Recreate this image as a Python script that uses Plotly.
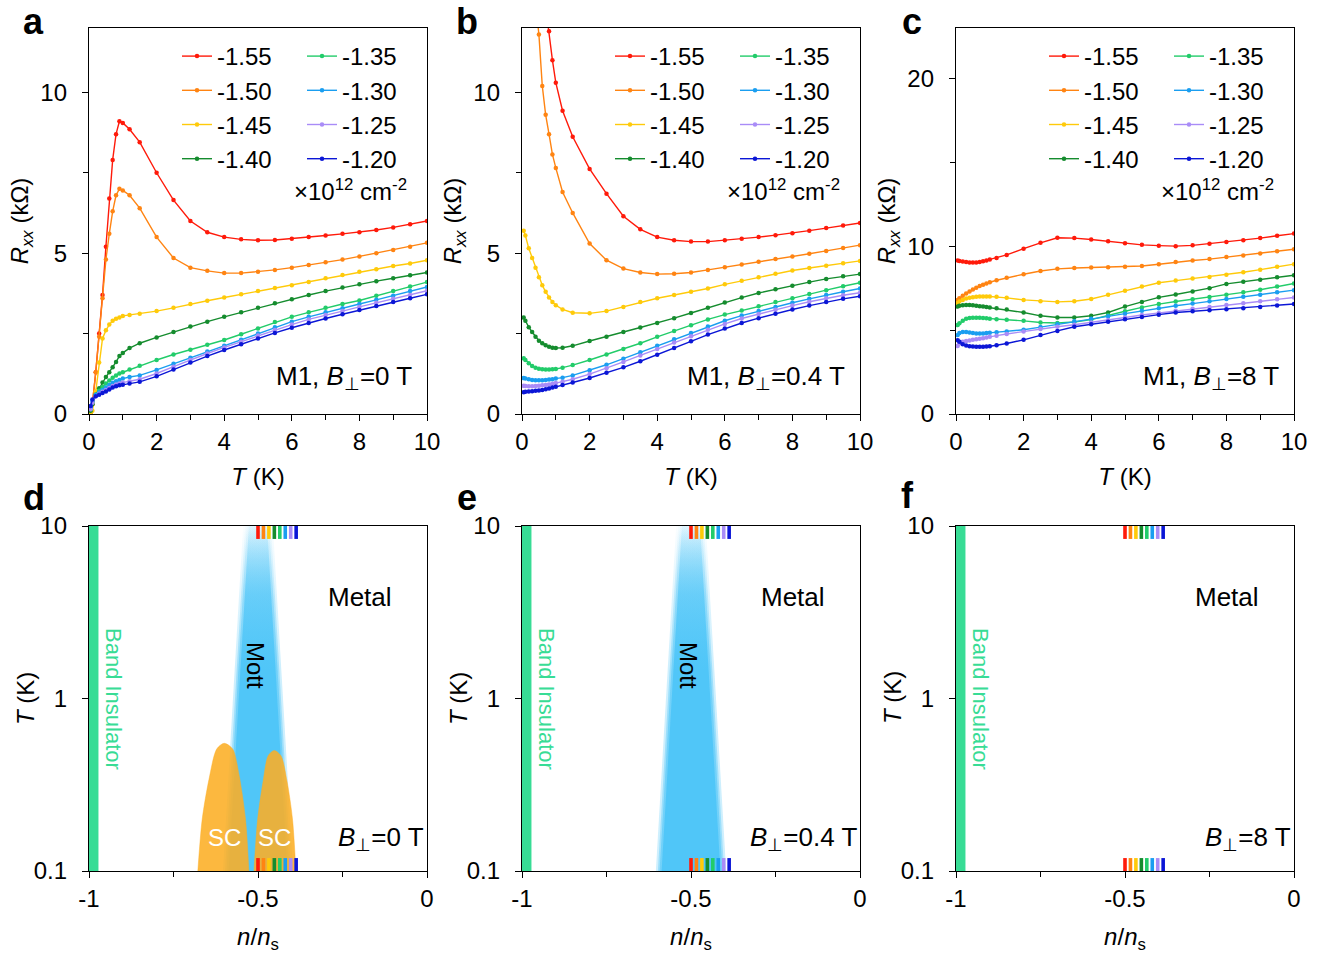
import plotly.graph_objects as go

W, H = 1340, 957
FONT = "Liberation Sans, Arial, Helvetica, sans-serif"

# ---------------- data ----------------
density = [-1.55, -1.50, -1.45, -1.40, -1.35, -1.30, -1.25, -1.20]   # x10^12 cm^-2
density_labels = ["-1.55", "-1.50", "-1.45", "-1.40", "-1.35", "-1.30", "-1.25", "-1.20"]
colors = ["#FF1A0A", "#FF8412", "#FFCA0A", "#158C2E", "#22CC6A", "#1A9EF0", "#A98CF7", "#0B16D6"]
N_S = 3.1  # x10^12 cm^-2

T_K = [0.05, 0.1, 0.2, 0.3, 0.4, 0.5, 0.6, 0.7, 0.8, 0.9, 1.0, 1.2, 1.5, 2.0, 2.5, 3.0, 3.5, 4.0,
       4.5, 5.0, 5.5, 6.0, 6.5, 7.0, 7.5, 8.0, 8.5, 9.0, 9.5, 10.0]

# panel a : B = 0 T  (Rxx in kOhm)
a_155 = [0.05, 0.3, 1.3, 2.5, 3.7, 5.2, 6.7, 7.9, 8.7, 9.1, 9.05, 8.85, 8.45, 7.5, 6.65, 6.0, 5.65, 5.5, 5.43, 5.4, 5.41, 5.45, 5.5, 5.55, 5.6, 5.65, 5.72, 5.8, 5.9, 6.0]
a_150 = [0.05, 0.3, 1.3, 2.4, 3.6, 4.8, 5.6, 6.3, 6.8, 7.0, 6.95, 6.8, 6.4, 5.5, 4.85, 4.55, 4.45, 4.38, 4.38, 4.42, 4.48, 4.55, 4.63, 4.72, 4.8, 4.9, 5.0, 5.1, 5.2, 5.32]
a_145 = [0.03, 0.1, 0.7, 1.6, 2.35, 2.6, 2.78, 2.9, 2.96, 3.0, 3.05, 3.08, 3.12, 3.2, 3.3, 3.42, 3.52, 3.62, 3.72, 3.82, 3.92, 4.0, 4.1, 4.22, 4.32, 4.42, 4.5, 4.6, 4.68, 4.78]
a_140 = [0.1, 0.3, 0.6, 0.8, 0.98, 1.15, 1.3, 1.45, 1.62, 1.8, 1.9, 2.05, 2.2, 2.38, 2.55, 2.72, 2.87, 3.02, 3.16, 3.3, 3.44, 3.57, 3.7, 3.82, 3.93, 4.03, 4.13, 4.22, 4.31, 4.4]
a_135 = [0.15, 0.35, 0.6, 0.72, 0.84, 0.95, 1.04, 1.13, 1.2, 1.26, 1.3, 1.38, 1.5, 1.68, 1.85, 2.0, 2.15, 2.3, 2.48, 2.66, 2.86, 3.02, 3.16, 3.3, 3.42, 3.53, 3.68, 3.82, 3.96, 4.1]
a_130 = [0.2, 0.4, 0.6, 0.68, 0.75, 0.82, 0.9, 0.97, 1.02, 1.06, 1.1, 1.15, 1.2, 1.37, 1.56, 1.75, 1.94, 2.12, 2.31, 2.5, 2.7, 2.87, 3.02, 3.16, 3.29, 3.42, 3.55, 3.68, 3.82, 3.95]
a_125 = [0.15, 0.35, 0.55, 0.63, 0.69, 0.75, 0.81, 0.87, 0.92, 0.95, 0.98, 1.02, 1.08, 1.26, 1.47, 1.68, 1.88, 2.07, 2.25, 2.44, 2.61, 2.78, 2.94, 3.08, 3.2, 3.33, 3.46, 3.58, 3.7, 3.83]
a_120 = [0.25, 0.45, 0.55, 0.6, 0.65, 0.7, 0.76, 0.82, 0.86, 0.89, 0.91, 0.95, 1.0, 1.17, 1.38, 1.6, 1.8, 1.99, 2.17, 2.35, 2.52, 2.68, 2.83, 2.97, 3.1, 3.23, 3.36, 3.48, 3.6, 3.72]

# panel b : B = 0.4 T
b_155 = [25, 22, 19, 17, 15.5, 14.5, 13.5, 12.6, 11.9, 11.0, 10.3, 9.43, 8.62, 7.62, 6.85, 6.15, 5.74, 5.5, 5.4, 5.36, 5.36, 5.4, 5.45, 5.5, 5.56, 5.62, 5.7, 5.78, 5.86, 5.94]
b_150 = [18, 16.5, 15.0, 13.8, 12.9, 11.8, 10.2, 9.3, 8.7, 8.07, 7.65, 6.9, 6.25, 5.3, 4.78, 4.52, 4.4, 4.35, 4.36, 4.4, 4.48, 4.56, 4.65, 4.73, 4.82, 4.9, 4.98, 5.07, 5.16, 5.25]
b_145 = [5.7, 5.55, 5.15, 4.85, 4.55, 4.25, 4.0, 3.8, 3.62, 3.48, 3.38, 3.25, 3.15, 3.13, 3.2, 3.33, 3.48, 3.6, 3.7, 3.8, 3.9, 4.03, 4.14, 4.25, 4.36, 4.46, 4.54, 4.61, 4.69, 4.76]
b_140 = [3.0, 2.9, 2.7, 2.55, 2.4, 2.28, 2.2, 2.14, 2.09, 2.06, 2.05, 2.06, 2.12, 2.27, 2.4, 2.55, 2.69, 2.83, 2.98, 3.14, 3.3, 3.47, 3.62, 3.76, 3.88, 3.99, 4.1, 4.2, 4.28, 4.35]
b_135 = [1.73, 1.68, 1.58, 1.49, 1.44, 1.41, 1.39, 1.38, 1.38, 1.39, 1.4, 1.44, 1.52, 1.68, 1.85, 2.02, 2.2, 2.4, 2.58, 2.76, 2.94, 3.09, 3.22, 3.35, 3.48, 3.6, 3.73, 3.85, 3.97, 4.08]
b_130 = [1.12, 1.1, 1.08, 1.06, 1.05, 1.05, 1.05, 1.06, 1.07, 1.08, 1.1, 1.13, 1.2, 1.36, 1.53, 1.72, 1.92, 2.12, 2.32, 2.52, 2.72, 2.9, 3.06, 3.2, 3.33, 3.46, 3.58, 3.7, 3.8, 3.9]
b_125 = [0.88, 0.87, 0.86, 0.86, 0.87, 0.88, 0.89, 0.9, 0.92, 0.94, 0.96, 1.0, 1.08, 1.24, 1.42, 1.62, 1.82, 2.02, 2.22, 2.42, 2.62, 2.8, 2.97, 3.11, 3.24, 3.37, 3.49, 3.6, 3.69, 3.77]
b_120 = [0.68, 0.69, 0.7, 0.71, 0.72, 0.73, 0.75, 0.77, 0.79, 0.82, 0.85, 0.9, 0.98, 1.12, 1.28, 1.45, 1.64, 1.84, 2.05, 2.26, 2.47, 2.66, 2.83, 2.98, 3.12, 3.25, 3.37, 3.48, 3.58, 3.66]

# panel c : B = 8 T
c_155 = [9.15, 9.12, 9.08, 9.05, 9.03, 9.02, 9.02, 9.05, 9.1, 9.15, 9.2, 9.3, 9.48, 9.85, 10.2, 10.5, 10.48, 10.4, 10.3, 10.18, 10.08, 10.03, 10.0, 10.05, 10.15, 10.25, 10.35, 10.48, 10.62, 10.75]
c_150 = [6.8, 6.9, 7.05, 7.18, 7.3, 7.42, 7.53, 7.62, 7.7, 7.78, 7.85, 7.97, 8.12, 8.33, 8.52, 8.65, 8.7, 8.73, 8.75, 8.77, 8.82, 8.92, 9.05, 9.15, 9.23, 9.35, 9.45, 9.57, 9.7, 9.82]
c_145 = [6.6, 6.7, 6.8, 6.88, 6.93, 6.96, 6.98, 7.0, 7.0, 7.0, 7.0, 6.98, 6.92, 6.8, 6.72, 6.68, 6.72, 6.85, 7.1, 7.35, 7.6, 7.82, 7.95, 8.07, 8.17, 8.3, 8.45, 8.6, 8.77, 8.93]
c_140 = [6.4, 6.45, 6.48, 6.5, 6.5, 6.48, 6.45, 6.42, 6.4, 6.37, 6.35, 6.3, 6.22, 6.05, 5.85, 5.75, 5.75, 5.85, 6.05, 6.4, 6.68, 6.95, 7.12, 7.3, 7.5, 7.75, 7.88, 8.0, 8.15, 8.27]
c_135 = [5.3, 5.4, 5.55, 5.68, 5.72, 5.74, 5.74, 5.73, 5.72, 5.7, 5.68, 5.65, 5.62, 5.55, 5.45, 5.42, 5.48, 5.62, 5.88, 6.12, 6.35, 6.55, 6.7, 6.83, 6.97, 7.1, 7.25, 7.4, 7.6, 7.78]
c_130 = [4.7, 4.82, 4.88, 4.88, 4.85, 4.82, 4.8, 4.8, 4.8, 4.82, 4.84, 4.87, 4.92, 5.02, 5.18, 5.35, 5.52, 5.67, 5.82, 5.98, 6.15, 6.3, 6.45, 6.58, 6.72, 6.85, 6.98, 7.1, 7.25, 7.38]
c_125 = [4.05, 4.2, 4.3, 4.35, 4.38, 4.42, 4.45, 4.48, 4.52, 4.56, 4.6, 4.67, 4.77, 4.92, 5.07, 5.2, 5.32, 5.45, 5.6, 5.75, 5.9, 6.02, 6.15, 6.27, 6.38, 6.5, 6.6, 6.72, 6.83, 6.94]
c_120 = [4.4, 4.3, 4.15, 4.08, 4.04, 4.02, 4.0, 4.0, 4.0, 4.02, 4.04, 4.1, 4.2, 4.42, 4.7, 4.95, 5.2, 5.35, 5.5, 5.65, 5.78, 5.92, 6.05, 6.12, 6.18, 6.24, 6.3, 6.38, 6.46, 6.55]

panel_a = [a_155, a_150, a_145, a_140, a_135, a_130, a_125, a_120]
panel_b = [b_155, b_150, b_145, b_140, b_135, b_130, b_125, b_120]
panel_c = [c_155, c_150, c_145, c_140, c_135, c_130, c_125, c_120]
fields = ["0", "0.4", "8"]

# phase diagram (n/ns, T in K)
T_MIN, T_MAX = 0.1, 10.0
band_ins_n = [-1.0, -0.972]
mott_T = [0.1, 10.0]
mott_left = [-0.59, -0.53]
mott_right = [-0.41, -0.47]
sc1_n = [-0.678, -0.665, -0.645, -0.622, -0.600, -0.575, -0.556, -0.537, -0.527]
sc1_T = [0.1, 0.20, 0.34, 0.51, 0.55, 0.51, 0.36, 0.20, 0.1]
sc2_n = [-0.512, -0.501, -0.485, -0.470, -0.452, -0.432, -0.414, -0.398, -0.388]
sc2_T = [0.1, 0.20, 0.33, 0.465, 0.50, 0.465, 0.33, 0.20, 0.1]

# ---------------- styling helpers ----------------
def fx(p):
    return p / W

def fy(p):
    return 1 - p / H

X_PIX = [(89, 427), (522, 860), (956, 1294)]
TOP_PIX = (28, 414)
BOT_PIX = (526, 871)
BI_COLOR = "#38DC95"
MOTT_RGB = (80, 198, 248)
SC_COLOR = "rgba(252,174,36,0.88)"
BAR_DECADES = 0.075
BAR_WIDTH = 3.6

fig = go.Figure()

# ---------------- top panels ----------------
legends = [("legend", "legend2"), ("legend3", "legend4"), ("legend5", "legend6")]
for p, series in enumerate([panel_a, panel_b, panel_c]):
    xa = "x" if p == 0 else f"x{p+1}"
    ya = "y" if p == 0 else f"y{p+1}"
    for i, vals in enumerate(series):
        fig.add_trace(go.Scatter(
            x=T_K, y=vals, mode="lines+markers", name=density_labels[i],
            line=dict(color=colors[i], width=1.4),
            marker=dict(color=colors[i], size=4.5),
            xaxis=xa, yaxis=ya, legend=legends[p][0 if i < 4 else 1],
            showlegend=True))

# ---------------- bottom panels ----------------
def mott_traces(xa, ya):
    offsets = [0.014, 0.008, 0.003, -0.003]
    alphas = [0.28, 0.4, 0.55, 1.0]
    r, g, b = MOTT_RGB
    for d, a in zip(offsets, alphas):
        xs = [mott_left[0] - d, mott_left[1] - d, mott_right[1] + d, mott_right[0] + d, mott_left[0] - d]
        ys = [mott_T[0], mott_T[1], mott_T[1], mott_T[0], mott_T[0]]
        cs = [[0, f"rgba({r},{g},{b},{a})"], [0.58, f"rgba({r},{g},{b},{a})"],
              [0.8, f"rgba({r},{g},{b},{a*0.65:.3f})"], [1, f"rgba({r},{g},{b},{a*0.08:.3f})"]]
        fig.add_trace(go.Scatter(
            x=xs, y=ys, mode="none", fill="toself",
            fillgradient=dict(type="vertical", colorscale=cs),
            xaxis=xa, yaxis=ya, showlegend=False, hoverinfo="skip"))

for k in range(3):
    xa, ya = f"x{k+4}", f"y{k+4}"
    fig.add_trace(go.Scatter(
        x=[band_ins_n[0], band_ins_n[1], band_ins_n[1], band_ins_n[0], band_ins_n[0]],
        y=[T_MIN, T_MIN, T_MAX, T_MAX, T_MIN], mode="none", fill="toself",
        fillcolor=BI_COLOR, xaxis=xa, yaxis=ya, showlegend=False, hoverinfo="skip"))
    if k < 2:
        mott_traces(xa, ya)
    if k == 0:
        for xs, ts in [(sc1_n, sc1_T), (sc2_n, sc2_T)]:
            fig.add_trace(go.Scatter(
                x=xs, y=ts, mode="lines", fill="toself", fillcolor=SC_COLOR,
                line=dict(color=SC_COLOR, width=0.5, shape="spline", smoothing=0.8),
                xaxis=xa, yaxis=ya, showlegend=False, hoverinfo="skip"))
    for i, dval in enumerate(density):
        nx = dval / N_S
        for y0, y1 in [(T_MIN, T_MIN * 10 ** BAR_DECADES), (T_MAX * 10 ** -BAR_DECADES, T_MAX)]:
            fig.add_trace(go.Scatter(
                x=[nx, nx], y=[y0, y1], mode="lines",
                line=dict(color=colors[i], width=BAR_WIDTH),
                xaxis=xa, yaxis=ya, showlegend=False, hoverinfo="skip", cliponaxis=False))

# ---------------- axes ----------------
minor_base = dict(ticks="outside", ticklen=5, tickwidth=1.3, tickcolor="black", showgrid=False)
axis_base = dict(showline=True, linecolor="black", linewidth=1.3, mirror=True,
                 ticks="outside", ticklen=6, tickwidth=1.3, tickcolor="black",
                 showgrid=False, zeroline=False, automargin=False,
                 tickfont=dict(size=24, family=FONT, color="black"))
title_font = dict(size=24, family=FONT, color="black")

layout = dict(width=W, height=H, margin=dict(l=0, r=0, t=0, b=0),
              paper_bgcolor="white", plot_bgcolor="white",
              font=dict(family=FONT, color="black"), showlegend=True)

for i in range(3):
    xn = "xaxis" if i == 0 else f"xaxis{i+1}"
    yn = "yaxis" if i == 0 else f"yaxis{i+1}"
    xref_ = "x" if i == 0 else f"x{i+1}"
    yref_ = "y" if i == 0 else f"y{i+1}"
    dom_x = [fx(X_PIX[i][0]), fx(X_PIX[i][1])]
    layout[xn] = dict(axis_base, domain=dom_x, anchor=yref_, range=[0, 10],
                      tickmode="array", tickvals=[0, 2, 4, 6, 8, 10],
                      ticktext=["0", "2", "4", "6", "8", "10"],
                      minor=dict(minor_base, tickmode="array", tickvals=[1, 3, 5, 7, 9]),
                      ticklabelstandoff=0,
                      title=dict(text="<i>T</i> (K)", font=title_font, standoff=14))
    if i < 2:
        yr, tv, tt, mv = [0, 12], [0, 5, 10], ["0", "5", "10"], [2.5, 7.5]
    else:
        yr, tv, tt, mv = [0, 23], [0, 10, 20], ["0", "10", "20"], [5, 15]
    layout[yn] = dict(axis_base, domain=[fy(TOP_PIX[1]), fy(TOP_PIX[0])], anchor=xref_,
                      range=yr, tickmode="array", tickvals=tv, ticktext=tt,
                      minor=dict(minor_base, tickmode="array", tickvals=mv),
                      ticklabelstandoff=10,
                      title=dict(text="<i>R</i><sub><i>xx</i></sub> (kΩ)", font=title_font, standoff=4))
    # bottom
    layout[f"xaxis{i+4}"] = dict(axis_base, domain=dom_x, anchor=f"y{i+4}", range=[-1, 0],
                                 tickmode="array", tickvals=[-1, -0.5, 0],
                                 ticktext=["-1", "-0.5", "0"],
                                 minor=dict(minor_base, tickmode="array", tickvals=[-0.75, -0.25]),
                                 ticklabelstandoff=0,
                                 title=dict(text="<i>n</i>/<i>n</i><sub>s</sub>", font=title_font, standoff=17))
    layout[f"yaxis{i+4}"] = dict(axis_base, domain=[fy(BOT_PIX[1]), fy(BOT_PIX[0])],
                                 anchor=f"x{i+4}", type="log", range=[-1, 1],
                                 tickmode="array", tickvals=[0.1, 1, 10], ticktext=["0.1", "1", "10"],
                                 ticklabelstandoff=10)

# legends (two columns per panel)
leg_x = [(177, 302), (610, 735), (1044, 1169)]
for p in range(3):
    for c in range(2):
        name = legends[p][c]
        layout[name] = dict(x=fx(leg_x[p][c]), y=fy(34), xanchor="left", yanchor="top",
                            bgcolor="rgba(0,0,0,0)", borderwidth=0, tracegroupgap=0,
                            font=dict(size=24, family=FONT, color="black"))

fig.update_layout(**layout)

# ---------------- annotations ----------------
ann = []
def add_text(text, x, y, size, xanchor="center", color="black", angle=0):
    ann.append(dict(text=text, x=fx(x), y=fy(y), xref="paper", yref="paper",
                    xanchor=xanchor, yanchor="middle", showarrow=False, textangle=angle,
                    font=dict(size=size, family=FONT, color=color)))

for letter, (x, y) in zip("abcdef", [(33, 22), (467, 22), (912, 22), (34, 497), (467, 497), (907, 495)]):
    add_text(f"<b>{letter}</b>", x, y, 36)

for i in range(3):
    x0 = X_PIX[i][0]
    add_text("<i>T</i> (K)", x0 - 64, 698, 24, angle=-90)   # y-axis title of bottom panels
    add_text("×10<sup>12</sup> cm<sup>-2</sup>", x0 + 320, 190, 24, xanchor="right")
    add_text(f"M1, <i>B</i><sub>⊥</sub>={fields[i]} T", x0 + 325, 377, 26, xanchor="right")
    add_text("Metal", x0 + 271, 597, 26)
    add_text(f"<i>B</i><sub>⊥</sub>={fields[i]} T", x0 + 337, 838, 26, xanchor="right")
    add_text("Band Insulator", x0 + 25, 699, 22, color=BI_COLOR, angle=90)
    if i < 2:
        add_text("Mott", x0 + 167, 665, 24, angle=90)
add_text("SC", 224, 837, 24, color="white")
add_text("SC", 274, 837, 24, color="white")

fig.update_layout(annotations=ann)
fig.write_html("out.html", config={"displayModeBar": False},
               post_script="document.body.style.margin='0px';")
